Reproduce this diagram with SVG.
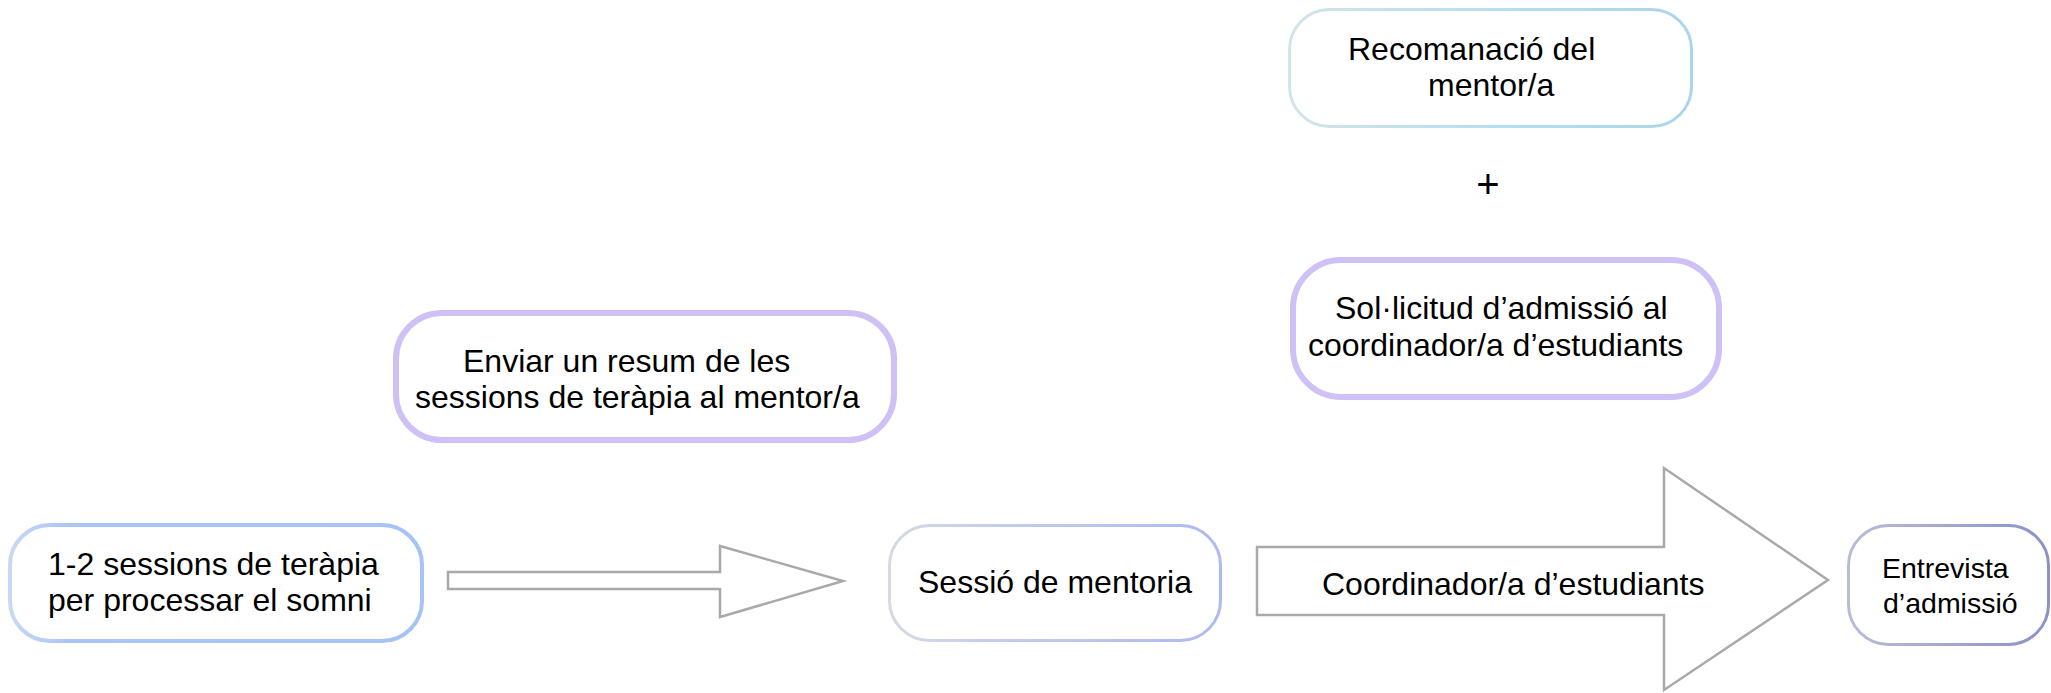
<svg xmlns="http://www.w3.org/2000/svg" width="2051" height="693" viewBox="0 0 2051 693">
  <style>
    .lbl { font-family: "Liberation Sans", Arial, sans-serif; font-size: 32px; fill: #000000; }
    .sm { font-size: 28.5px; }
    .node { fill: #ffffff; }
    .blue { stroke: #a7c3f5; stroke-width: 4; }
    .purple { stroke: #cfc0f6; stroke-width: 6; }
    .arrow { fill: #ffffff; stroke: #a9a9a9; stroke-width: 2.5; stroke-linejoin: miter; }
  </style>
  <defs>
    <linearGradient id="gSess" x1="0" y1="0" x2="1" y2="0">
      <stop offset="0" stop-color="#d6d9e4"/>
      <stop offset="0.35" stop-color="#c3cbee"/>
      <stop offset="1" stop-color="#adbaf0"/>
    </linearGradient>
    <linearGradient id="gEntr" x1="0" y1="0" x2="1" y2="0">
      <stop offset="0" stop-color="#b9bcd6"/>
      <stop offset="1" stop-color="#8a92cc"/>
    </linearGradient>
    <linearGradient id="gReco" x1="0" y1="0" x2="1" y2="0">
      <stop offset="0" stop-color="#d3e3ea"/>
      <stop offset="0.5" stop-color="#b8deef"/>
      <stop offset="1" stop-color="#a9d6ea"/>
    </linearGradient>
    <linearGradient id="gLeft" x1="0" y1="0" x2="1" y2="0">
      <stop offset="0" stop-color="#c9d8f4"/>
      <stop offset="0.15" stop-color="#a9c4f5"/>
      <stop offset="1" stop-color="#a7c3f5"/>
    </linearGradient>
  </defs>

  <g id="connectors">
    <polygon id="arrow-1" class="arrow" points="448,572 720,572 720,546 843,581 720,617 720,589 448,589"/>
    <polygon id="arrow-2" class="arrow" points="1257,547 1664,547 1664,468 1828,580 1664,690 1664,615 1257,615"/>
    <text class="lbl" x="1322" y="595">Coordinador/a d’estudiants</text>
  </g>

  <g id="node-terapia">
    <rect class="node" x="10" y="525" width="412" height="116" rx="40" ry="40" stroke="url(#gLeft)" stroke-width="4"/>
    <text class="lbl" x="48" y="575">1-2 sessions de teràpia</text>
    <text class="lbl" x="48" y="611">per processar el somni</text>
  </g>

  <g id="node-resum">
    <rect class="node purple" x="396" y="313" width="498" height="127" rx="46" ry="46"/>
    <text class="lbl" x="463" y="372">Enviar un resum de les</text>
    <text class="lbl" x="415" y="408">sessions de teràpia al mentor/a</text>
  </g>

  <g id="node-mentoria">
    <rect class="node" x="889.5" y="525.5" width="331" height="115" rx="40" ry="40" stroke="url(#gSess)" stroke-width="3"/>
    <text class="lbl" x="918" y="593">Sessió de mentoria</text>
  </g>

  <g id="node-recomanacio">
    <rect class="node" x="1289.5" y="9.5" width="402" height="117" rx="40" ry="40" stroke="url(#gReco)" stroke-width="3"/>
    <text class="lbl" x="1348" y="60">Recomanació del</text>
    <text class="lbl" x="1428" y="96">mentor/a</text>
  </g>

  <g id="plus">
    <text class="lbl" x="1488" y="198" text-anchor="middle" style="font-size:40px">+</text>
  </g>

  <g id="node-sollicitud">
    <rect class="node purple" x="1293" y="260" width="426" height="137" rx="48" ry="48"/>
    <text class="lbl" x="1335" y="319">Sol·licitud d’admissió al</text>
    <text class="lbl" x="1308" y="356">coordinador/a d’estudiants</text>
  </g>

  <g id="node-entrevista">
    <rect class="node" x="1848.5" y="525.5" width="200" height="119" rx="40" ry="40" stroke="url(#gEntr)" stroke-width="3"/>
    <text class="lbl sm" x="1882" y="578">Entrevista</text>
    <text class="lbl sm" x="1883" y="613">d’admissió</text>
  </g>
</svg>
